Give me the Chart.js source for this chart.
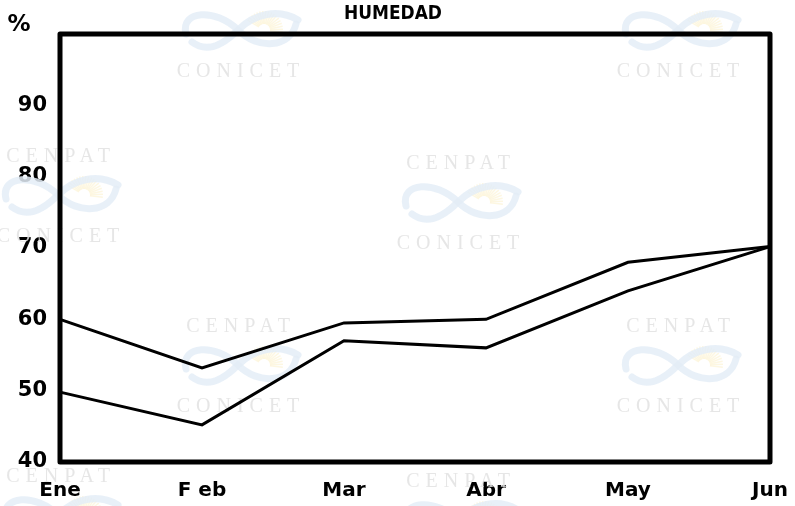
<!DOCTYPE html>
<html lang="es">
<head>
<meta charset="utf-8">
<title>Humedad</title>
<script src="https://cdn.jsdelivr.net/npm/chart.js@4/dist/chart.umd.min.js"></script>
<style>
  html, body { margin: 0; padding: 0; background: #fff; }
  #wrap { position: relative; width: 795px; height: 506px; }
</style>
</head>
<body>
<div id="wrap"><canvas id="chart" width="795" height="506"></canvas></div>
<script>
// ============ DATOS ============
const MESES = ['Ene', 'F eb', 'Mar', 'Abr', 'May', 'Jun'];
const humedadAlta = [60, 53.2, 59.5, 60, 68, 70.2];
const humedadBaja = [49.8, 45.2, 57, 56, 64, 70.2];
const TICKS_Y = [40, 50, 60, 70, 80, 90];

// sellos de fondo (logo + textos) — centros del logo
const SELLOS = [
  { x: 238, y: 30 }, { x: 678, y: 30 },
  { x: 58, y: 195 }, { x: 458, y: 202 },
  { x: 238, y: 365 }, { x: 678, y: 365 },
  { x: 58, y: 515 }, { x: 458, y: 520 },
];

const FUENTE = '"DejaVu Sans", "Liberation Sans", sans-serif';

function dibujarLogo(ctx, cx, cy) {
  ctx.save();
  ctx.translate(cx, cy);
  // rayos del sol
  ctx.strokeStyle = 'rgba(252, 244, 214, 0.7)';
  ctx.lineWidth = 1.5;
  for (let a = -2.6; a <= 0.2; a += 0.16) {
    ctx.beginPath();
    ctx.moveTo(26 + Math.cos(a) * 6, 0 + Math.sin(a) * 6);
    ctx.lineTo(26 + Math.cos(a) * 19, 0 + Math.sin(a) * 19);
    ctx.stroke();
  }
  // lazo
  ctx.strokeStyle = 'rgba(228, 237, 247, 0.85)';
  ctx.lineWidth = 7;
  ctx.lineCap = 'round';
  ctx.beginPath();
  ctx.moveTo(-52, 4);
  ctx.bezierCurveTo(-58, -20, -22, -22, 0, 0);
  ctx.bezierCurveTo(20, 20, 52, 18, 58, -6);
  ctx.stroke();
  ctx.beginPath();
  ctx.moveTo(-46, 12);
  ctx.bezierCurveTo(-30, 24, -14, 14, 0, 0);
  ctx.bezierCurveTo(16, -16, 40, -22, 60, -10);
  ctx.stroke();
  ctx.restore();
}

const fondoSellos = {
  id: 'fondoSellos',
  beforeDatasetsDraw(chart) {
    const { ctx } = chart;
    ctx.save();
    ctx.fillStyle = 'rgba(226, 226, 226, 0.85)';
    ctx.font = '20px "Liberation Serif", "DejaVu Serif", serif';
    ctx.textAlign = 'center';
    ctx.textBaseline = 'middle';
    if ('letterSpacing' in ctx) ctx.letterSpacing = '6px';
    SELLOS.forEach(s => {
      dibujarLogo(ctx, s.x, s.y);
      ctx.fillText('CENPAT', s.x + 3, s.y - 38);
      ctx.fillText('CONICET', s.x + 3, s.y + 42);
    });
    ctx.restore();
  },
};

const marco = {
  id: 'marco',
  afterDraw(chart) {
    const { ctx, chartArea: a } = chart;
    ctx.save();
    ctx.strokeStyle = '#000';
    ctx.lineWidth = 5;
    ctx.lineJoin = 'round';
    ctx.strokeRect(a.left, a.top, a.right - a.left, a.bottom - a.top);
    ctx.fillStyle = '#000';
    ctx.textBaseline = 'middle';
    ctx.textAlign = 'center';
    ctx.font = 'bold 20px ' + FUENTE;
    ctx.save();
    ctx.translate(393, 14);
    ctx.scale(0.85, 1);
    ctx.fillText('HUMEDAD', 0, 0);
    ctx.restore();
    ctx.font = 'bold 23px ' + FUENTE;
    ctx.fillText('%', 19, 25);
    ctx.restore();
  },
};

new Chart(document.getElementById('chart'), {
  type: 'line',
  data: {
    labels: MESES,
    datasets: [
      { label: 'Alta', data: humedadAlta, borderColor: '#000', borderWidth: 3, pointRadius: 0, tension: 0, fill: false },
      { label: 'Baja', data: humedadBaja, borderColor: '#000', borderWidth: 3, pointRadius: 0, tension: 0, fill: false },
    ],
  },
  options: {
    responsive: false,
    animation: false,
    layout: { padding: { left: 2, right: 0, top: 34, bottom: 0 } },
    plugins: { legend: { display: false }, tooltip: { enabled: false }, title: { display: false } },
    scales: {
      x: {
        offset: false,
        grid: { display: false, drawTicks: false },
        border: { display: false },
        ticks: { color: '#000', padding: 17, maxRotation: 0, autoSkip: false, font: { family: FUENTE, size: 20, weight: 'bold' } },
        afterFit: s => { s.height = 44; s.paddingRight = 25; },
      },
      y: {
        min: 40, max: 100,
        grid: { display: false, drawTicks: false },
        border: { display: false },
        afterBuildTicks: s => { s.ticks = TICKS_Y.map(v => ({ value: v })); },
        ticks: { color: '#000', padding: 13, font: { family: FUENTE, size: 21, weight: 'bold' } },
        afterFit: s => { s.width = 58; },
      },
    },
  },
  plugins: [fondoSellos, marco],
});
</script>
</body>
</html>
